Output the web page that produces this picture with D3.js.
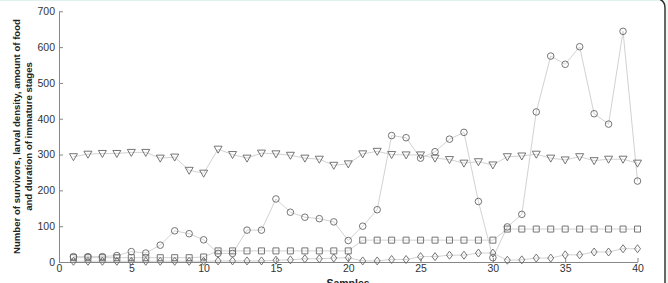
<!DOCTYPE html>
<html>
<head>
<meta charset="utf-8">
<script src="https://cdn.jsdelivr.net/npm/d3@7"></script>
<style>
  body { margin: 0; background: #fff; }
  svg { display: block; font-family: "Liberation Sans", Arial, sans-serif; }
</style>
</head>
<body>
<svg id="chart" width="668" height="283"></svg>
<script>
"use strict";

// sample numbers 1..40
var samples = d3.range(1, 41);

// duration of immature stages (triangles)
var durationVals = [294,301,303,303,306,306,290,293,256,248,315,300,290,304,302,298,290,287,270,274,
                    302,309,300,299,299,290,286,276,280,271,294,296,301,290,285,294,283,287,287,276];
// larval density (circles)
var densityVals = [15,15,15,18,29,25,47,87,79,62,24,24,89,89,176,139,125,121,112,60,
                   100,146,353,347,290,308,343,362,169,12,98,133,419,575,552,601,414,385,644,226];
// amount of food (squares)
var foodVals = [12,12,12,12,12,12,12,12,12,14,31,31,31,31,31,31,31,31,31,31,
                61,61,61,61,61,61,61,61,61,61,92,92,92,92,92,92,92,92,92,92];
// number of survivors (diamonds)
var survivorVals = [2,2,2,2,2,2,2,2,2,2,3,3,3,3,5,6,9,9,11,12,
                    3,3,7,7,15,15,19,19,25,25,5,6,11,11,20,20,28,28,37,37];

var xTicks = [0,5,10,15,20,25,30,35,40];
var yTicks = [0,100,200,300,400,500,600,700];

var svg = d3.select("#chart");

// 背景和右侧圆角边框
svg.append("rect").attr("width",668).attr("height",283).attr("fill","#eef9f1");
svg.append("path")
    .attr("d","M-10,-1 L656,-1 Q665,-1 665,8 L665,300 L-10,300 Z")
    .attr("fill","#fff")
    .attr("stroke","none");
svg.append("path")
    .attr("d","M600,-1 L656,-1 Q665,-1 665,8 L665,300")
    .attr("fill","none")
    .attr("stroke","#2a2a2a")
    .attr("stroke-width",1.4);
svg.append("line").attr("x1",0).attr("x2",660).attr("y1",0.5).attr("y2",0.5)
    .attr("stroke","#dff2ee").attr("stroke-width",1);

var x = d3.scaleLinear().domain([0,40]).range([59,637.5]);
var y = d3.scaleLinear().domain([0,700]).range([262,11.3]);

// 坐标轴
var axisColor = "#888";
var gx = svg.append("g").attr("transform","translate(0,"+y(0)+")")
    .call(d3.axisBottom(x).tickValues(xTicks).tickSize(-4).tickPadding(3).tickSizeOuter(0));
var gy = svg.append("g").attr("transform","translate("+x(0)+",0)")
    .call(d3.axisLeft(y).tickValues(yTicks).tickSize(-4).tickPadding(4).tickSizeOuter(0));
[gx,gy].forEach(function(g){
    g.select(".domain").attr("stroke",axisColor);
    g.selectAll(".tick line").attr("stroke",axisColor);
    g.selectAll(".tick text").attr("fill","#333").attr("font-size",10.5)
        .attr("font-family","Liberation Sans, Arial, sans-serif");
});
gx.selectAll(".tick text").attr("dy","0.71em");

// 轴标题
svg.append("text")
    .attr("transform","translate(20,136.5) rotate(-90)")
    .attr("text-anchor","middle")
    .attr("font-size",9.6).attr("font-weight","bold").attr("fill","#222")
    .text("Number of survivors, larval density, amount of food");
svg.append("text")
    .attr("transform","translate(32,136.5) rotate(-90)")
    .attr("text-anchor","middle")
    .attr("font-size",9.6).attr("font-weight","bold").attr("fill","#222")
    .text("and duration of immature stages");
svg.append("text")
    .attr("x",348).attr("y",286.5)
    .attr("text-anchor","middle")
    .attr("font-size",10.5).attr("font-weight","bold").attr("fill","#222")
    .text("Samples");

// 标记形状
var markers = {
    triangle: function(s){ return "M-4,-3L4,-3L0,4Z"; },
    circle: function(s){ return d3.symbol(d3.symbolCircle, 34)(); },
    square: function(s){ return "M-3,-3L3,-3L3,3L-3,3Z"; },
    diamond: function(s){ return "M0,-4L3,0L0,4L-3,0Z"; }
};

var seriesList = [
    {vals: survivorVals, shape: "diamond"},
    {vals: foodVals, shape: "square"},
    {vals: durationVals, shape: "triangle"},
    {vals: densityVals, shape: "circle"}
];

var line = d3.line()
    .x(function(d){ return x(d[0]); })
    .y(function(d){ return y(d[1]); });

seriesList.forEach(function(s){
    var pts = samples.map(function(k,i){ return [k, s.vals[i]]; });
    svg.append("path").datum(pts)
        .attr("d",line)
        .attr("fill","none")
        .attr("stroke","#d2d2d2")
        .attr("stroke-width",1);
});

seriesList.forEach(function(s){
    var pts = samples.map(function(k,i){ return [k, s.vals[i]]; });
    svg.append("g").selectAll("path").data(pts).enter().append("path")
        .attr("transform",function(d){ return "translate("+x(d[0])+","+y(d[1])+")"; })
        .attr("d",markers[s.shape])
        .attr("fill","none")
        .attr("stroke","#666")
        .attr("stroke-width",0.9);
});
</script>
</body>
</html>
